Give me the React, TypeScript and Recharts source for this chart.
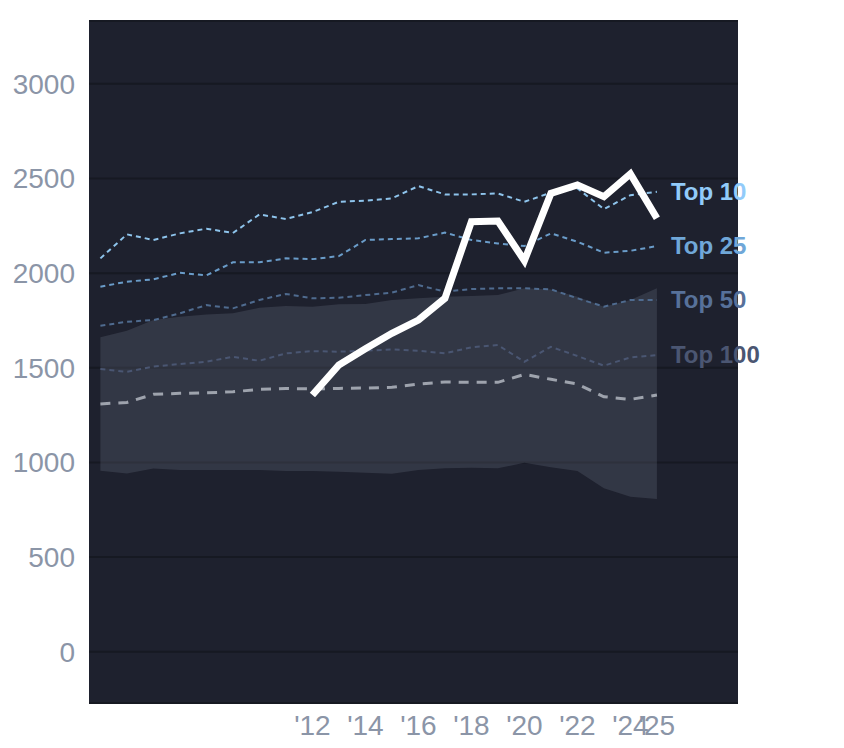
import React from "react";
import {
  ComposedChart,
  Line,
  Area,
  XAxis,
  YAxis,
  CartesianGrid,
} from "recharts";

const years = [
  2004, 2005, 2006, 2007, 2008, 2009, 2010, 2011, 2012, 2013, 2014,
  2015, 2016, 2017, 2018, 2019, 2020, 2021, 2022, 2023, 2024, 2025,
];
const top10 = [
  2078, 2205, 2175, 2210, 2235, 2212, 2310, 2286, 2322, 2377, 2383,
  2395, 2460, 2416, 2416, 2421, 2377, 2425, 2448, 2338, 2412, 2430,
];
const top25 = [
  1928, 1955, 1967, 2002, 1988, 2057, 2057, 2078, 2074, 2090, 2175,
  2180, 2184, 2214, 2175, 2157, 2143, 2210, 2166, 2108, 2118, 2143,
];
const top50 = [
  1722, 1743, 1752, 1788, 1831, 1814, 1858, 1890, 1867, 1870, 1884,
  1897, 1937, 1902, 1916, 1920, 1920, 1914, 1867, 1823, 1858, 1858,
];
const top100 = [
  1493, 1479, 1506, 1520, 1532, 1558, 1537, 1576, 1588, 1585, 1590,
  1597, 1590, 1576, 1608, 1620, 1532, 1611, 1562, 1511, 1555, 1567,
];
const median = [
  1309, 1317, 1360, 1365, 1368, 1373, 1386, 1391, 1388, 1391, 1393,
  1397, 1414, 1425, 1423, 1423, 1465, 1439, 1414, 1347, 1333, 1356,
];
const bandHigh = [
  1661, 1696, 1752, 1770, 1782, 1788, 1817, 1826, 1823, 1835, 1837,
  1858, 1867, 1875, 1879, 1884, 1920, 1914, 1875, 1823, 1858, 1920,
];
const bandLow = [
  956, 942, 968, 960, 960, 960, 960, 955, 955, 951, 946,
  940, 960, 969, 972, 969, 998, 974, 955, 863, 819, 807,
];
const highlight = [
  null, null, null, null, null, null, null, null, 1356, 1515, 1600,
  1682, 1752, 1867, 2272, 2275, 2066, 2421, 2466, 2404, 2524, 2290,
];
const xTicks = [2012, 2014, 2016, 2018, 2020, 2022, 2024, 2025];
const yTicks = [0, 500, 1000, 1500, 2000, 2500, 3000];

const data = years.map((year, i) => ({
  year,
  top10: top10[i],
  top25: top25[i],
  top50: top50[i],
  top100: top100[i],
  median: median[i],
  band: [bandLow[i], bandHigh[i]],
  highlight: highlight[i],
}));

const lastIndex = years.length - 1;

const makeLabel = (text: string, color: string) => (props: any) => {
  const { x, y, index } = props;
  if (index !== lastIndex || x == null || y == null) return null;
  return (
    <text
      key={text}
      x={x + 14}
      y={y}
      dy="0.35em"
      fill={color}
      fontSize={24}
      fontWeight="bold"
      fontFamily="'Liberation Sans', Arial, sans-serif"
      textAnchor="start"
    >
      {text}
    </text>
  );
};

const tickStyle = {
  fill: "#8b95a7",
  fontSize: 28,
  fontFamily: "'Liberation Sans', Arial, sans-serif",
};

export default function App() {
  return (
    <div style={{ width: 836, height: 740 }}>
      <ComposedChart
        width={836}
        height={740}
        data={data}
        margin={{ top: 13, right: 106, left: 0, bottom: 0 }}
      >
        <CartesianGrid
          vertical={false}
          stroke="#161922"
          strokeWidth={2}
          fill="#1e212e"
          fillOpacity={1}
        />
        <XAxis
          dataKey="year"
          type="number"
          domain={[2003.57, 2028.06]}
          ticks={xTicks}
          interval={0}
          allowDataOverflow
          axisLine={false}
          tickLine={false}
          tickSize={0}
          tickMargin={12}
          height={45}
          tick={tickStyle}
          tickFormatter={(v: number) => "'" + String(v).slice(2)}
        />
        <YAxis
          type="number"
          domain={[-271, 3332]}
          ticks={yTicks}
          allowDataOverflow
          axisLine={false}
          tickLine={false}
          tickSize={0}
          tickMargin={14}
          width={81}
          tick={tickStyle}
        />
        <Area
          dataKey="band"
          stroke="none"
          fill="#646a7c"
          fillOpacity={0.3}
          isAnimationActive={false}
          activeDot={false}
          dot={false}
        />
        <Line
          dataKey="top100"
          stroke="#4a5672"
          strokeWidth={2}
          strokeDasharray="5 4"
          dot={false}
          isAnimationActive={false}
          label={makeLabel("Top 100", "#4b5672")}
        />
        <Line
          dataKey="top50"
          stroke="#4f6b8f"
          strokeWidth={2}
          strokeDasharray="5 4"
          dot={false}
          isAnimationActive={false}
          label={makeLabel("Top 50", "#57719a")}
        />
        <Line
          dataKey="top25"
          stroke="#6a9cc9"
          strokeWidth={2}
          strokeDasharray="5 4"
          dot={false}
          isAnimationActive={false}
          label={makeLabel("Top 25", "#70a7d8")}
        />
        <Line
          dataKey="top10"
          stroke="#8ec4ec"
          strokeWidth={2}
          strokeDasharray="5 4"
          dot={false}
          isAnimationActive={false}
          label={makeLabel("Top 10", "#92cbfa")}
        />
        <Line
          dataKey="median"
          stroke="#9ea3ad"
          strokeWidth={3}
          strokeDasharray="10 8"
          dot={false}
          isAnimationActive={false}
        />
        <Line
          dataKey="highlight"
          stroke="#ffffff"
          strokeWidth={7}
          dot={false}
          isAnimationActive={false}
        />
      </ComposedChart>
    </div>
  );
}
